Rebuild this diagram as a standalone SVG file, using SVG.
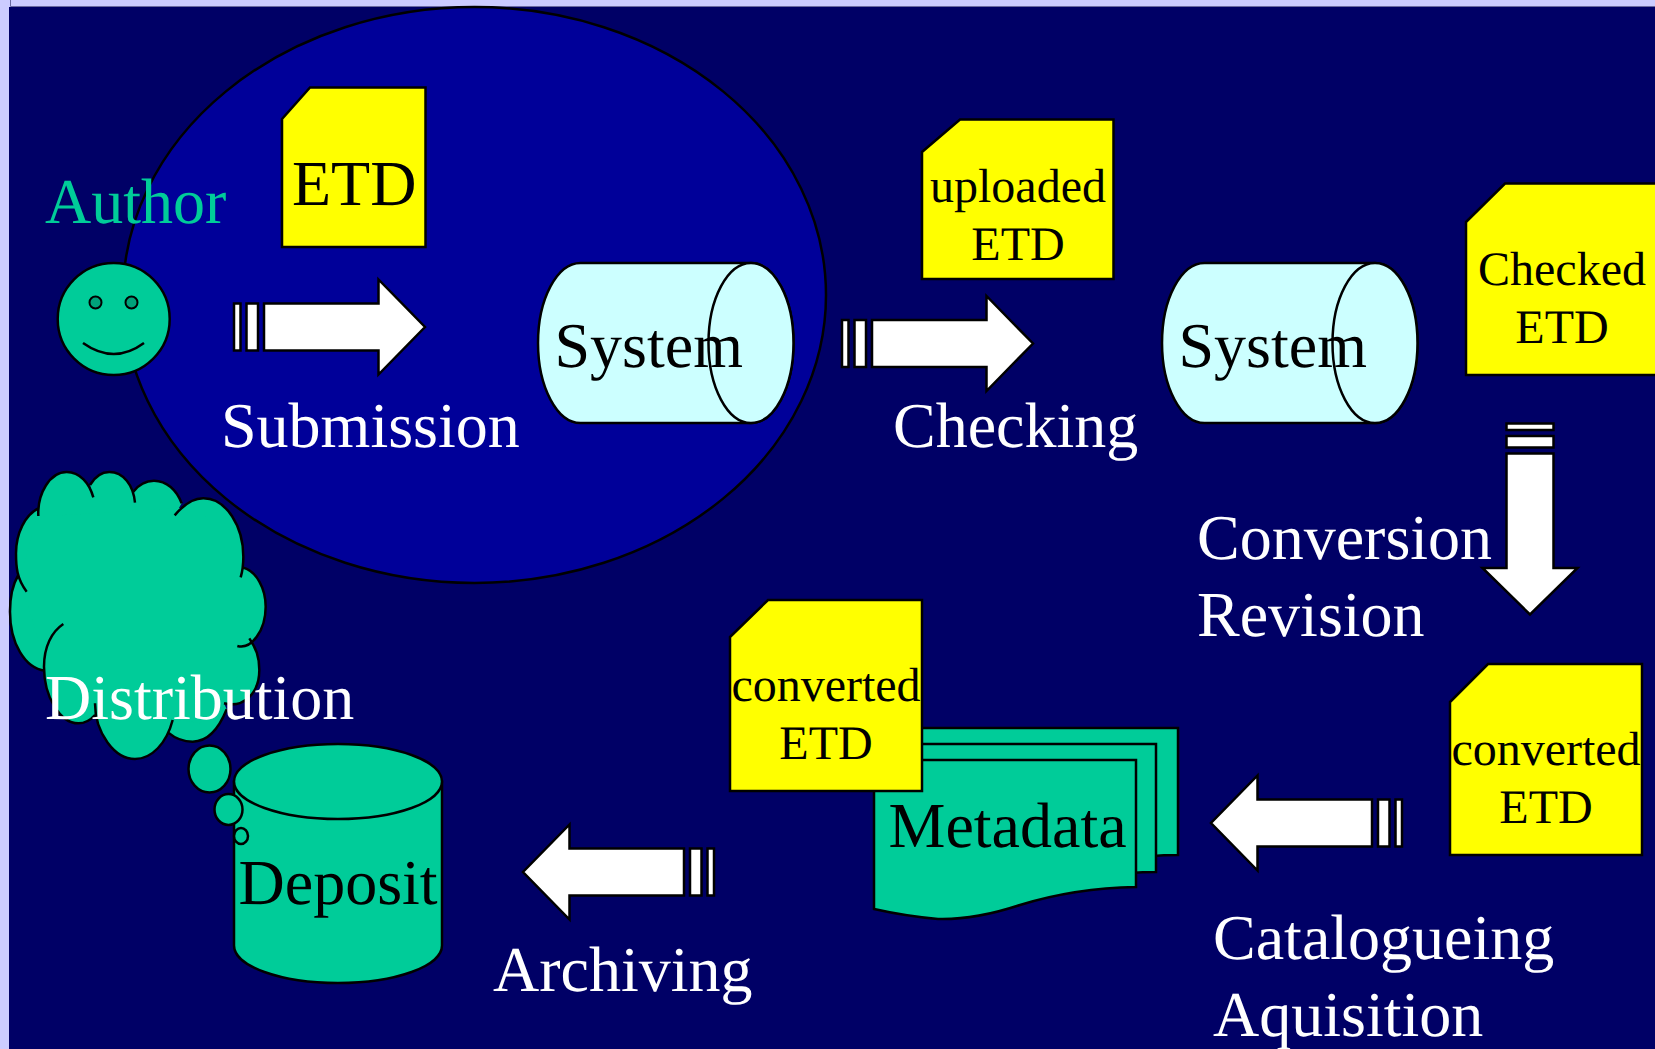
<svg xmlns="http://www.w3.org/2000/svg" xmlns:xlink="http://www.w3.org/1999/xlink" width="1655" height="1049" viewBox="0 0 1655 1049">
<style>
text{font-family:"Liberation Serif","Times New Roman",serif;text-rendering:geometricPrecision}
.big{font-size:64px}
.small{font-size:48px;text-anchor:middle}
.ink{fill:#000}
.white{fill:#fff}
.green{fill:#00cc99}
.teal{fill:#00cc99;stroke:#000;stroke-width:2.5}
.doc{fill:#ffff00;stroke:#000;stroke-width:2.5}
.sys{fill:#ccffff;stroke:#000;stroke-width:2.5}
.arrow{fill:#fff;stroke:#000;stroke-width:2.5}
</style>
<defs>
<g id="arrow" class="arrow">
<rect x="0" y="-23.5" width="6.5" height="47"/>
<rect x="12.5" y="-23.5" width="11.5" height="47"/>
<path d="M30,-23.5H144.5V-47.5L191,0L144.5,47.5V23.5H30Z"/>
</g>
</defs>
<rect x="0" y="0" width="1655" height="1049" fill="#ccccff"/>
<rect x="9" y="7" width="1646" height="1042" fill="#000066"/>
<path d="M10.500,0V6.500H1655" fill="none" stroke="#6a6aa0" stroke-width="1"/>

<g id="submission-zone"><ellipse cx="474.500" cy="295" rx="351.500" ry="288" fill="#000099" stroke="#000" stroke-width="2.5"/></g>

<g id="author">
<text x="45" y="223" class="big green">Author</text>
<circle cx="113.700" cy="319" r="56" class="teal"/>
<circle cx="95.500" cy="302.500" r="6" fill="#00a27a" stroke="#000" stroke-width="2"/>
<circle cx="131.500" cy="302.500" r="6" fill="#00a27a" stroke="#000" stroke-width="2"/>
<path d="M83,343Q114,365 144,343" fill="none" stroke="#000" stroke-width="2.5"/>
</g>

<g id="etd">
<path d="M282,119L310,87.500H425.500V247H282Z" class="doc"/>
<text x="292" y="205" class="big ink">ETD</text>
</g>

<g id="system-1">
<path d="M580.500,263H751A42.500,80 0 0 1 751,423H580.500A42.500,80 0 0 1 580.500,263Z" class="sys"/>
<ellipse cx="751" cy="343" rx="42.500" ry="80" class="sys"/>
<text x="554.500" y="367" class="big ink">System</text>
</g>

<g id="uploaded-etd">
<path d="M922,152L960,119.500H1113.500V279H922Z" class="doc"/>
<text x="1018" y="202" class="small ink">uploaded</text>
<text x="1018" y="260" class="small ink">ETD</text>
</g>

<g id="system-2">
<path d="M1204.500,263H1375A42.500,80 0 0 1 1375,423H1204.500A42.500,80 0 0 1 1204.500,263Z" class="sys"/>
<ellipse cx="1375" cy="343" rx="42.500" ry="80" class="sys"/>
<text x="1178.500" y="367" class="big ink">System</text>
</g>

<g id="checked-etd">
<path d="M1466,222L1505,183.500H1658V375H1466Z" class="doc"/>
<text x="1562" y="285" class="small ink">Checked</text>
<text x="1562" y="343" class="small ink">ETD</text>
</g>

<g id="converted-etd-1">
<path d="M1450,702L1488,664H1642V855H1450Z" class="doc"/>
<text x="1546" y="765" class="small ink">converted</text>
<text x="1546" y="823" class="small ink">ETD</text>
</g>

<g id="metadata">
<path d="M915,728H1178V855Q1150,855 1120,860H915Z" class="teal"/>
<path d="M895,744H1156V872Q1130,872 1100,876H895Z" class="teal"/>
<path d="M874,760H1136V887Q1075,888 1020,905Q975,920 938,919Q905,916 874,909Z" class="teal"/>
<text x="888.500" y="846.500" class="big ink">Metadata</text>
</g>

<g id="converted-etd-2">
<path d="M730,637L768,600H922V791H730Z" class="doc"/>
<text x="826" y="701" class="small ink">converted</text>
<text x="826" y="759" class="small ink">ETD</text>
</g>

<g id="deposit">
<path d="M234,781.500V945.500A104,37.500 0 0 0 442,945.500V781.500Z" class="teal"/>
<ellipse cx="338" cy="781.500" rx="104" ry="37.500" class="teal"/>
<text x="238.500" y="904" class="big ink">Deposit</text>
</g>

<g id="distribution-cloud">
<g transform="translate(0 440) scale(0.33333)">
<path fill="#00cc99" d="M80,455C50,415 48,380 48,340C48,280 75,225 115,205L115,228C112,160 150,96 200,96C240,96 268,130 280,172L270,135C285,110 305,96 328,96C370,96 400,135 405,188L400,155C415,135 435,122 462,122C500,122 530,150 545,190L524,226C550,195 580,175 610,175C680,175 730,260 730,350C730,375 727,395 722,412L730,383C770,395 797,445 797,500C797,570 755,630 712,618L748,595C768,625 778,650 778,690C778,760 730,805 672,790L680,808C655,870 620,905 578,905C550,905 525,895 505,878L518,840C500,910 455,957 405,957C345,957 285,880 285,790L285,825C270,842 255,850 235,850C180,850 132,770 132,680C132,620 155,575 190,552L135,692C75,685 30,610 30,515C30,470 40,430 55,405Z"/>
<path fill="#00cc99" d="M110,230L600,200L720,400L720,700L600,850L300,800L140,680L60,420Z"/>
<path fill="none" stroke="#000" stroke-width="7.500" d="M80,455C50,415 48,380 48,340C48,280 75,225 115,205M115,228C112,160 150,96 200,96C240,96 268,130 280,172M270,135C285,110 305,96 328,96C370,96 400,135 405,188M400,155C415,135 435,122 462,122C500,122 530,150 545,190M524,226C550,195 580,175 610,175C680,175 730,260 730,350C730,375 727,395 722,412M730,383C770,395 797,445 797,500C797,570 755,630 712,618M748,595C768,625 778,650 778,690C778,760 730,805 672,790M680,808C655,870 620,905 578,905C550,905 525,895 505,878M518,840C500,910 455,957 405,957C345,957 285,880 285,790M285,825C270,842 255,850 235,850C180,850 132,770 132,680C132,620 155,575 190,552M135,692C75,685 30,610 30,515C30,470 40,430 55,405"/>
</g>
<ellipse cx="209.500" cy="769" rx="21" ry="23.500" class="teal"/>
<ellipse cx="228.500" cy="809.500" rx="14" ry="15.500" class="teal"/>
<ellipse cx="241" cy="836" rx="7" ry="8" class="teal"/>
<text x="45" y="719" class="big white">Distribution</text>
</g>

<g id="connectors">
<use href="#arrow" xlink:href="#arrow" transform="translate(234 327)"/>
<use href="#arrow" xlink:href="#arrow" transform="translate(842 343.500)"/>
<use href="#arrow" xlink:href="#arrow" transform="translate(1530 423.500) rotate(90)"/>
<use href="#arrow" xlink:href="#arrow" transform="translate(1402 823) scale(-1 1)"/>
<use href="#arrow" xlink:href="#arrow" transform="translate(714 872) scale(-1 1)"/>
</g>

<g id="connector-labels">
<text x="221" y="447" class="big white">Submission</text>
<text x="893" y="447" class="big white">Checking</text>
<text x="1197" y="558.500" class="big white">Conversion</text>
<text x="1197" y="635.500" class="big white">Revision</text>
<text x="1213" y="959" class="big white">Catalogueing</text>
<text x="1213" y="1036" class="big white">Aquisition</text>
<text x="493" y="991" class="big white">Archiving</text>
</g>
</svg>
